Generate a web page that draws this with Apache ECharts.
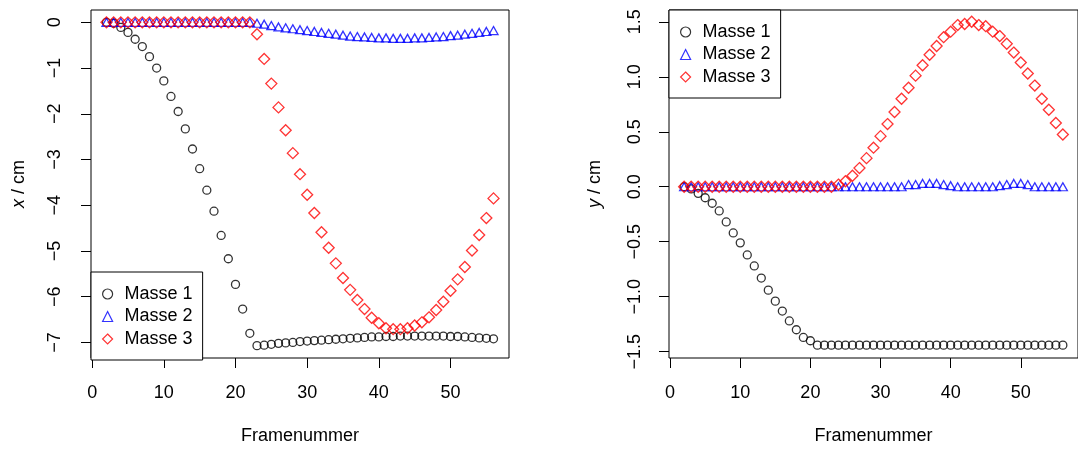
<!DOCTYPE html>
<html>
<head>
<meta charset="utf-8">
<script src="https://cdn.jsdelivr.net/npm/echarts@6/dist/echarts.min.js"></script>
<style>
  html, body { margin: 0; padding: 0; background: #fff; }
  #chart { width: 1078px; height: 450px; }
</style>
</head>
<body>
<div id="chart"></div>
<script>
var frames = [2, 3, 4, 5, 6, 7, 8, 9, 10, 11, 12, 13, 14, 15, 16, 17, 18, 19, 20, 21, 22,
              23, 24, 25, 26, 27, 28, 29, 30, 31, 32, 33, 34, 35, 36, 37, 38, 39, 40,
              41, 42, 43, 44, 45, 46, 47, 48, 49, 50, 51, 52, 53, 54, 55, 56];

// x position (cm)
var m1x = [0, -0.02, -0.11, -0.22, -0.37, -0.53, -0.75, -1.00, -1.28, -1.62, -1.95, -2.33, -2.77,
           -3.20, -3.67, -4.13, -4.66, -5.17, -5.73, -6.27, -6.80,
           -7.07, -7.06, -7.04, -7.02, -7.01, -7.00, -6.98, -6.97, -6.96, -6.95, -6.94, -6.93,
           -6.92, -6.91, -6.90, -6.89, -6.88, -6.88, -6.87, -6.87,
           -6.86, -6.86, -6.86, -6.86, -6.86, -6.86, -6.86, -6.87, -6.87, -6.88, -6.89, -6.90, -6.91, -6.92];
var m2x = [0, 0, 0, 0, 0, 0, 0, 0, 0, 0, 0, 0, 0, 0, 0, 0, 0, 0, 0, 0, 0,
           -0.02, -0.04, -0.07, -0.10, -0.12, -0.14, -0.16, -0.18, -0.20, -0.22, -0.24, -0.26,
           -0.28, -0.30, -0.31, -0.32, -0.33, -0.34, -0.34, -0.35, -0.35, -0.35, -0.34, -0.34,
           -0.33, -0.32, -0.31, -0.29, -0.28, -0.26, -0.24, -0.22, -0.20, -0.18];
var m3x = [0, 0, 0, 0, 0, 0, 0, 0, 0, 0, 0, 0, 0, 0, 0, 0, 0, 0, 0, 0, 0,
           -0.26, -0.80, -1.34, -1.86, -2.36, -2.86, -3.32, -3.77, -4.17, -4.59, -4.93, -5.27,
           -5.59, -5.85, -6.07, -6.27, -6.46, -6.58, -6.69, -6.71, -6.71, -6.69, -6.63, -6.56,
           -6.45, -6.29, -6.11, -5.87, -5.62, -5.35, -4.99, -4.65, -4.28, -3.85];

// y position (cm)
var m1y = [0, -0.02, -0.06, -0.10, -0.15, -0.22, -0.32, -0.42, -0.51, -0.62, -0.72, -0.83, -0.94,
           -1.04, -1.13, -1.22, -1.30, -1.37, -1.40, -1.44, -1.44,
           -1.44, -1.44, -1.44, -1.44, -1.44, -1.44, -1.44, -1.44, -1.44, -1.44, -1.44, -1.44,
           -1.44, -1.44, -1.44, -1.44, -1.44, -1.44, -1.44, -1.44, -1.44, -1.44, -1.44, -1.44,
           -1.44, -1.44, -1.44, -1.44, -1.44, -1.44, -1.44, -1.44, -1.44, -1.44];
var m2y = [0, 0, 0, 0, 0, 0, 0, 0, 0, 0, 0, 0, 0, 0, 0, 0, 0, 0, 0, 0, 0, 0, 0, 0, 0, 0, 0, 0, 0, 0, 0, 0,
           0.02, 0.02, 0.03, 0.03, 0.03, 0.02, 0.01, 0, 0, 0, 0, 0, 0,
           0.01, 0.02, 0.03, 0.03, 0.02, 0, 0, 0, 0, 0];
var m3y = [0, 0, 0, 0, 0, 0, 0, 0, 0, 0, 0, 0, 0, 0, 0, 0, 0, 0, 0, 0, 0, 0,
           0.02, 0.05, 0.10, 0.17, 0.26, 0.355, 0.46, 0.57, 0.68, 0.80, 0.90, 1.01, 1.105,
           1.20, 1.28, 1.36, 1.41, 1.47, 1.48, 1.50, 1.47, 1.46, 1.41, 1.37, 1.30, 1.22,
           1.13, 1.03, 0.92, 0.80, 0.70, 0.58, 0.475];

var xTicks = [0, 10, 20, 30, 40, 50];
var xyTicks = [-7, -6, -5, -4, -3, -2, -1, 0];
var yyTicks = [-1.5, -1.0, -0.5, 0.0, 0.5, 1.0, 1.5];
var names = ['Masse 1', 'Masse 2', 'Masse 3'];

var FONT = 'Liberation Sans';

function pairs(vals) {
  return frames.map(function (f, i) { return [f, vals[i]]; });
}
function minus(s) { return String(s).replace('-', '\u2212'); }

var styles = [
  { symbol: 'circle', symbolSize: 8, color: '#000000' },
  { symbol: 'triangle', symbolSize: [9, 8], color: '#0000ff' },
  { symbol: 'diamond', symbolSize: 11, color: '#ff0000' }
];

function mkSeries(name, k, vals, idx) {
  var s = styles[k];
  return {
    name: name,
    type: 'scatter',
    xAxisIndex: idx,
    yAxisIndex: idx,
    symbol: s.symbol,
    symbolSize: s.symbolSize,
    itemStyle: { color: 'rgba(0,0,0,0)', borderColor: s.color, borderWidth: 1.3 },
    emphasis: { disabled: true },
    data: pairs(vals)
  };
}

function xAxisOpt(idx) {
  return {
    type: 'value', gridIndex: idx, min: -0.16, max: 58.16,
    name: 'Framenummer', nameLocation: 'middle', nameGap: 69,
    nameTextStyle: { fontFamily: FONT, fontSize: 18, color: '#000' },
    axisLine: { show: false, onZero: false },
    splitLine: { show: false },
    axisTick: { show: true, inside: false, length: 10, customValues: xTicks,
                lineStyle: { color: '#000', width: 1 } },
    axisLabel: { customValues: xTicks, margin: 26, fontFamily: FONT, fontSize: 18, color: '#000' }
  };
}

function yAxisOpt(idx, min, max, ticks, fmt, letter, gap, margin) {
  return {
    type: 'value', gridIndex: idx, min: min, max: max,
    name: '{i|' + letter + '} / cm', nameLocation: 'middle', nameGap: gap, nameRotate: 90,
    nameTextStyle: { fontFamily: FONT, fontSize: 18, color: '#000',
                     rich: { i: { fontFamily: FONT, fontSize: 18, fontStyle: 'italic', color: '#000' } } },
    axisLine: { show: false, onZero: false },
    splitLine: { show: false },
    axisTick: { show: true, inside: false, length: 10, customValues: ticks,
                lineStyle: { color: '#000', width: 1 } },
    axisLabel: { customValues: ticks, rotate: 90, margin: margin, fontFamily: FONT, fontSize: 18, color: '#000',
                 formatter: fmt }
  };
}

function legendOpt(left, top) {
  return {
    left: left, top: top, orient: 'vertical',
    data: names,
    itemWidth: 10, itemHeight: 10, itemGap: 2.5,
    padding: [12, 10, 11, 11],
    borderColor: '#000', borderWidth: 1, borderRadius: 0,
    backgroundColor: '#fff',
    selectedMode: false,
    itemStyle: { borderWidth: 1.2 },
    textStyle: { fontFamily: FONT, fontSize: 18, color: '#000', lineHeight: 20, padding: [0, 0, 0, 7] }
  };
}

var chart = echarts.init(document.getElementById('chart'), null, { renderer: 'canvas' });
var option = {
  animation: false,
  backgroundColor: '#fff',
  grid: [
    { left: 91, top: 10, width: 418, height: 350, show: true, borderColor: '#000', borderWidth: 1,
      backgroundColor: 'rgba(0,0,0,0)' },
    { left: 669, top: 10, width: 418, height: 350, show: true, borderColor: '#000', borderWidth: 1,
      backgroundColor: 'rgba(0,0,0,0)' }
  ],
  xAxis: [xAxisOpt(0), xAxisOpt(1)],
  yAxis: [
    yAxisOpt(0, -7.34, 0.27, xyTicks, function (v) { return minus(v); }, 'x', 63, 27),
    yAxisOpt(1, -1.557, 1.607, yyTicks, function (v) { return minus(v.toFixed(1)); }, 'y', 65, 25)
  ],
  legend: [legendOpt(91, 272), legendOpt(669, 10)],
  series: [
    mkSeries(names[0], 0, m1x, 0),
    mkSeries(names[1], 1, m2x, 0),
    mkSeries(names[2], 2, m3x, 0),
    mkSeries(names[0], 0, m1y, 1),
    mkSeries(names[1], 1, m2y, 1),
    mkSeries(names[2], 2, m3y, 1)
  ]
};
chart.setOption(option);
</script>
</body>
</html>
